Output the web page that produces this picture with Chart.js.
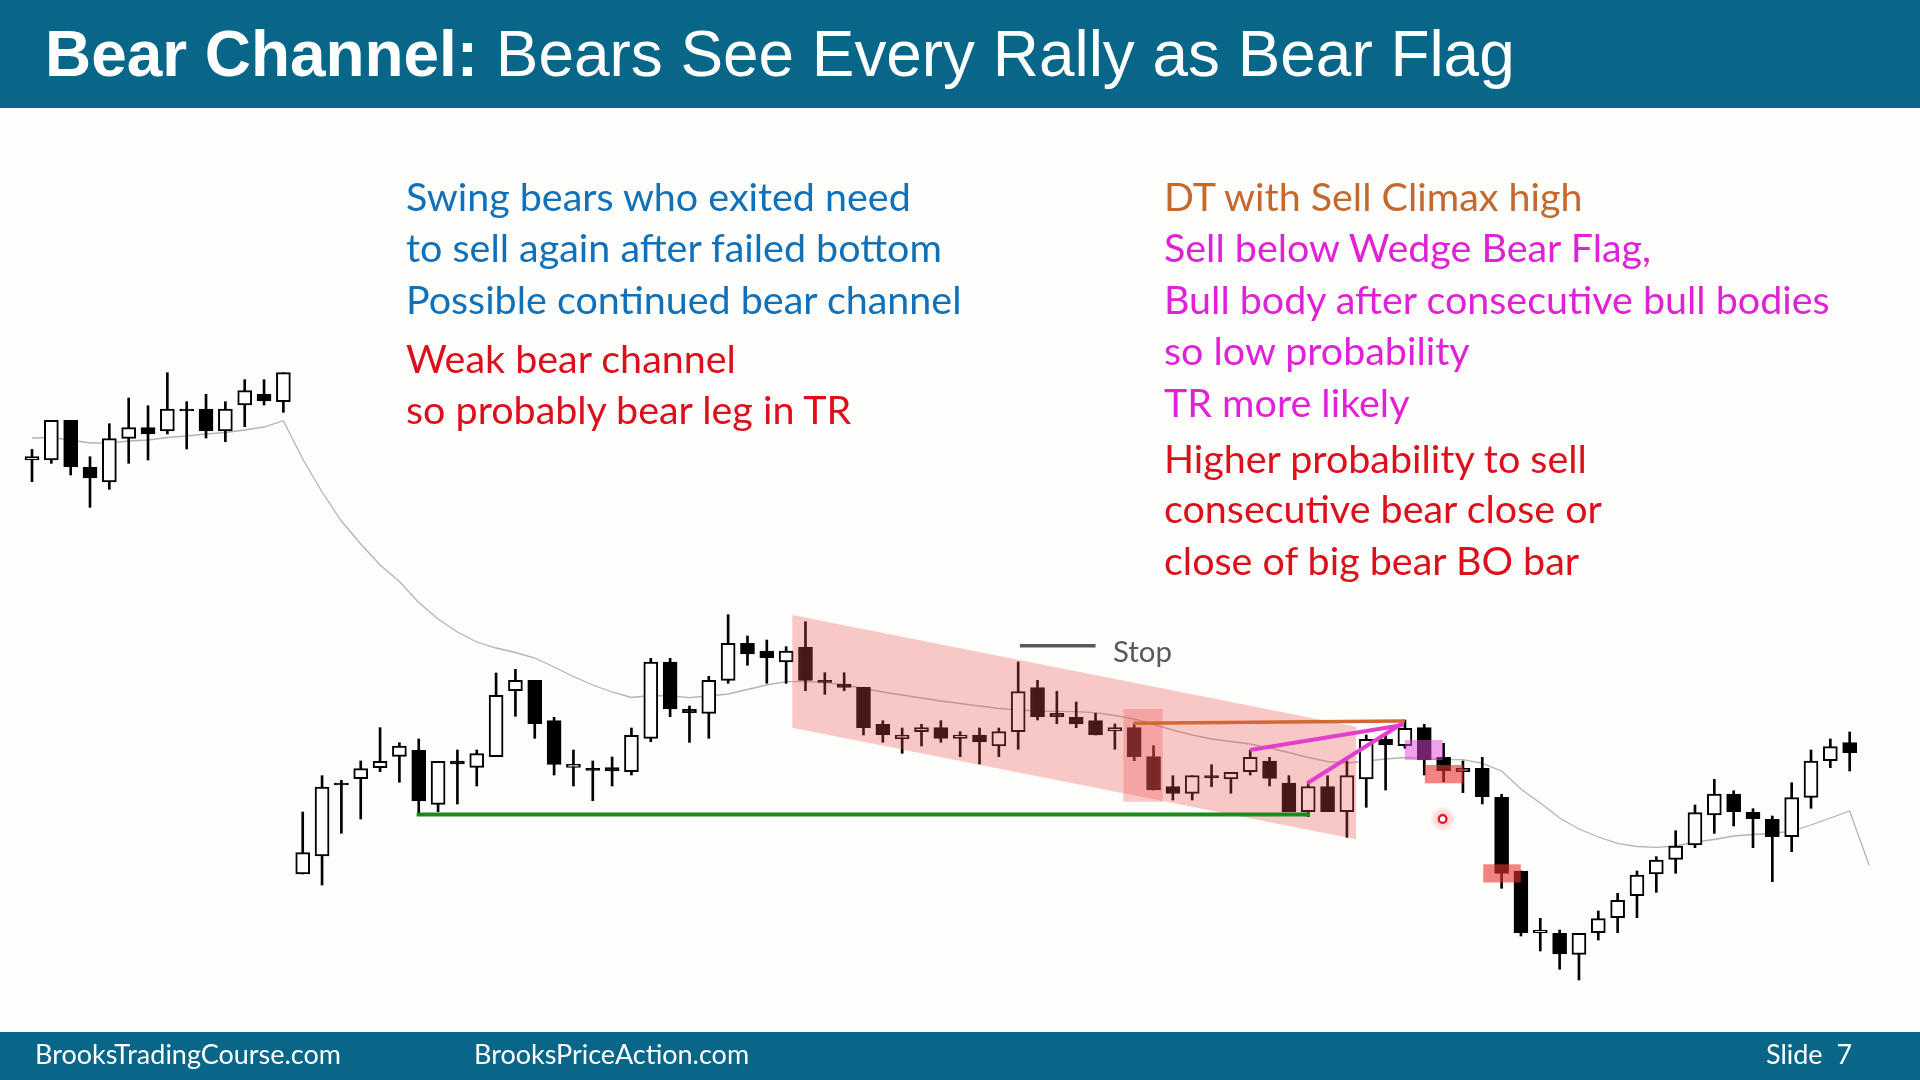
<!DOCTYPE html>
<html><head><meta charset="utf-8">
<script src="https://cdn.jsdelivr.net/npm/chart.js@4/dist/chart.umd.min.js"></script>
<style>
html,body{margin:0;padding:0;width:1920px;height:1080px;overflow:hidden;background:#fdfdfb;}
#wrap{position:relative;width:1920px;height:1080px;}
#chart{position:absolute;left:0;top:0;}
.band{position:absolute;left:0;width:1920px;background:#086688;}
.t{position:absolute;white-space:nowrap;line-height:1;font-family:Lato,"Open Sans",sans-serif;display:inline-block;}
#title{position:absolute;left:45px;white-space:nowrap;line-height:1;font-family:"Liberation Sans",Arial,sans-serif;color:#fff;display:inline-block;}
.blue{color:#1070b8}.red{color:#dc101a}.orange{color:#c4692d}.mag{color:#df22d6}
.foot{color:#ffffff}
</style></head>
<body><div id="wrap">
<div class="band" style="top:0;height:108px"></div>
<div class="band" style="top:1032px;height:48px"></div>
<canvas id="chart" width="1920" height="1080"></canvas>
<div id="title" data-w="1470"><b>Bear Channel:</b> Bears See Every Rally as Bear Flag</div>

<div class="t txt blue" style="left:406px" data-w="504.5" data-cy="197.2">Swing bears who exited need</div>
<div class="t txt blue" style="left:406px" data-w="541" data-cy="248.6">to sell again after failed bottom</div>
<div class="t txt blue" style="left:406px" data-w="558" data-cy="300">Possible continued bear channel</div>
<div class="t txt red" style="left:406px" data-w="332" data-cy="358.8">Weak bear channel</div>
<div class="t txt red" style="left:406px" data-w="447" data-cy="410.2">so probably bear leg in TR</div>

<div class="t txt orange" style="left:1164px" data-w="410" data-cy="197.2">DT with Sell Climax high</div>
<div class="t txt mag" style="left:1164px" data-w="486" data-cy="248.6">Sell below Wedge Bear Flag,</div>
<div class="t txt mag" style="left:1164px" data-w="667" data-cy="300">Bull body after consecutive bull bodies</div>
<div class="t txt mag" style="left:1164px" data-w="308.6" data-cy="351.4">so low probability</div>
<div class="t txt mag" style="left:1164px" data-w="243.7" data-cy="402.9">TR more likely</div>
<div class="t txt red" style="left:1164px" data-w="425" data-cy="459.2">Higher probability to sell</div>
<div class="t txt red" style="left:1164px" data-w="438" data-cy="509.4">consecutive bear close or</div>
<div class="t txt red" style="left:1164px" data-w="412.7" data-cy="560.8">close of big bear BO bar</div>

<div class="t stop" style="left:1113px;color:#595959" data-w="59" data-cy="652.5">Stop</div>

<div class="t foot" style="left:35px" data-w="311" data-cy="1056.5">BrooksTradingCourse.com</div>
<div class="t foot" style="left:474px" data-w="274" data-cy="1056.5">BrooksPriceAction.com</div>
<div class="t foot" style="left:1766px" data-w="85" data-cy="1056.5">Slide&nbsp;&nbsp;7</div>
</div>
<script>
// ---- data (price units) ----
const opens = [54.0,54.0,57.97,53.27,51.8,56.17,57.23,56.9,59.1,59.1,56.9,59.5,60.57,59.83,
 12.6,14.4,21.7,22.13,23.23,24.37,24.97,19.57,23.9,23.27,
 24.33,30.93,31.97,27.93,23.27,23.17,23.23,22.83,26.17,33.8,
 29.07,28.67,31.97,35.67,34.9,33.8,35.27,31.97,31.6,31.27,
 27.57,26.13,26.83,27.23,26.17,26.5,25.4,26.83,31.23,28.67,
 28.27,27.93,26.9,27.23,24.33,21.33,20.67,22.43,22.1,22.83,
 23.9,21.7,18.83,21.33,18.83,22.1,26.07,25.43,27.23,24.27,
 22.83,23.17,20.27,12.9,6.73,6.67,4.57,6.73,8.23,10.43,
 12.6,14.07,15.5,18.5,20.6,18.77,18.07,16.33,20.27,23.93,25.73];
const highs = [55.07,57.97,57.97,54.33,57.63,60.2,59.43,62.73,59.83,60.57,59.83,62.03,62.03,62.73,
 18.8,22.43,21.97,23.9,27.23,25.73,26.1,23.87,25.0,25.0,
 32.7,33.07,31.97,28.27,25.0,23.9,24.3,27.2,34.17,34.17,
 29.4,32.37,38.53,36.4,36.0,35.33,37.83,32.73,32.73,31.27,
 27.93,27.2,27.57,27.93,26.83,27.2,27.2,33.8,31.97,30.87,
 29.8,28.67,27.6,27.6,25.43,22.43,22.43,23.53,22.77,25.0,
 24.27,22.43,21.67,22.43,23.9,26.5,26.5,28.0,27.57,25.67,
 23.9,24.27,20.57,12.9,8.17,7.0,6.67,8.9,10.67,12.9,
 14.33,16.93,19.5,22.07,20.93,19.13,18.4,21.73,25.0,26.1,26.8];
const lows = [51.83,53.67,52.5,49.27,51.07,53.67,54.0,56.6,55.1,56.2,55.83,57.33,59.5,58.77,
 12.6,11.5,16.67,18.1,22.83,21.77,18.67,18.83,19.6,21.4,
 24.33,28.37,26.17,22.5,21.4,19.93,21.4,22.5,25.83,28.33,
 25.77,26.17,31.67,33.47,31.67,31.67,30.93,30.57,30.93,26.5,
 25.77,24.67,25.4,25.77,24.33,23.6,24.33,25.07,28.0,27.63,
 27.23,26.5,25.07,23.93,21.0,20.0,20.0,21.33,20.67,22.5,
 21.4,18.83,18.33,18.83,16.27,19.27,21.0,25.17,22.5,21.83,
 20.73,19.6,11.17,6.4,4.9,3.07,2.0,6.0,6.73,8.23,
 10.77,12.67,15.23,16.67,17.4,15.23,11.83,14.83,19.17,23.23,22.9];
const closes = [54.33,57.97,53.33,52.2,56.13,57.23,56.6,59.1,59.1,56.9,59.1,60.93,59.9,62.73,
 14.73,21.3,21.7,23.13,23.87,25.4,19.9,23.87,23.6,24.63,
 30.47,31.97,27.63,23.57,23.57,23.17,22.9,26.47,33.8,29.1,
 28.73,31.97,35.67,34.6,34.23,34.9,31.97,31.97,31.27,27.23,
 26.5,26.5,27.23,26.17,26.5,25.8,26.83,30.83,28.33,28.33,
 27.6,26.5,27.23,24.33,21.0,20.67,22.43,22.43,22.77,24.27,
 22.17,18.83,21.33,18.83,22.43,26.07,25.5,27.17,24.0,22.93,
 23.17,20.33,12.67,6.73,7.0,4.6,6.67,8.13,9.97,12.5,
 14.0,15.4,18.73,20.6,18.83,18.13,16.33,20.23,23.9,25.33,24.73];
const ema20 = [56.2,56.25,56.0,55.7,55.7,55.9,56.0,56.25,56.4,56.6,56.75,57.0,57.3,57.93,
 54.1,50.8,47.9,45.6,43.5,41.85,39.75,38.1,36.8,35.8,
 35.2,34.75,34.2,33.3,32.35,31.5,30.8,30.25,30.45,30.4,
 30.23,30.4,30.6,31.05,31.5,31.83,31.83,31.75,31.5,31.15,
 30.8,30.5,30.2,29.9,29.65,29.4,29.15,29.0,28.9,28.87,
 28.83,28.73,28.45,28.1,27.55,27.0,26.5,26.1,25.85,25.6,
 25.2,24.75,24.25,23.85,23.7,23.9,24.1,24.25,24.15,24.05,
 24.03,23.67,22.9,21.1,19.7,18.2,17.1,16.3,15.67,15.35,
 15.27,15.4,15.8,16.05,16.4,16.55,16.65,16.9,17.5,18.2,18.9,13.5];

// ---- annotations in data coordinates [barIndex, price] ----
const channelPoly = [[39.32,38.5],[68.47,27.33],[68.47,16.07],[39.32,27.23]];
const setupBox = [56.44,29.1,58.47,19.83];
const supportLine = [[19.89,18.55],[66.09,18.55]];
const dtLine = [[56.95,27.67],[71.0,27.9]];
const wedgeLines = [[[62.99,25.0],[70.9,27.5]],[[65.95,21.67],[70.9,27.7]]];
const stopLine = [[51.09,35.43],[55.0,35.43]];
const magentaBox = [71.0,26.0,72.95,24.0];
const redBoxes = [[72.03,23.5,74.02,21.67],[75.05,13.57,76.99,11.75]];
const marker = [72.95,18.1];

const idx = opens.map((_,i)=>i);
const wickData = idx.map(i=>({x:i,y:[lows[i],highs[i]]}));
const bodyData = idx.map(i=>({x:i,y:[opens[i],closes[i]]}));
const bodyColors = idx.map(i=>closes[i]>opens[i]?'#ffffff':'#000000');
const emaData = ema20.map((v,i)=>({x:i,y:v}));

const overlays = {
  id:'overlays',
  afterDatasetsDraw(chart){
    const {ctx} = chart, xs = chart.scales.x, ys = chart.scales.y;
    const X=v=>xs.getPixelForValue(v), Y=v=>ys.getPixelForValue(v);
    const box=(b,c)=>{ctx.fillStyle=c;ctx.fillRect(X(b[0]),Y(b[1]),X(b[2])-X(b[0]),Y(b[3])-Y(b[1]));};
    const seg=(s,c,w)=>{ctx.strokeStyle=c;ctx.lineWidth=w;ctx.lineCap='butt';ctx.beginPath();ctx.moveTo(X(s[0][0]),Y(s[0][1]));ctx.lineTo(X(s[1][0]),Y(s[1][1]));ctx.stroke();};
    ctx.save();
    ctx.fillStyle='rgba(238,80,80,0.3)';
    ctx.beginPath();
    channelPoly.forEach((p,i)=>{ if(i) ctx.lineTo(X(p[0]),Y(p[1])); else ctx.moveTo(X(p[0]),Y(p[1])); });
    ctx.closePath(); ctx.fill();
    box(setupBox,'rgba(238,80,80,0.3)');
    seg(supportLine,'#1b8a1b',4);
    seg(dtLine,'#d06a30',3.5);
    wedgeLines.forEach(s=>seg(s,'#e23fcf',4));
    seg(stopLine,'#595959',3.5);
    box(magentaBox,'rgba(228,70,215,0.5)');
    redBoxes.forEach(b=>box(b,'rgba(235,50,50,0.6)'));
    const cx=X(marker[0]), cy=Y(marker[1]);
    const g=ctx.createRadialGradient(cx,cy,0,cx,cy,13);
    g.addColorStop(0,'rgba(255,60,60,0.4)'); g.addColorStop(1,'rgba(255,60,60,0)');
    ctx.fillStyle=g; ctx.beginPath(); ctx.arc(cx,cy,13,0,Math.PI*2); ctx.fill();
    ctx.beginPath(); ctx.arc(cx,cy,3.8,0,Math.PI*2); ctx.fillStyle='#ffffff'; ctx.fill();
    ctx.lineWidth=2.2; ctx.strokeStyle='#e0141e'; ctx.stroke();
    ctx.restore();
  }
};

const PX_PER_BAR = 19.337, FIRST_BAR_PX = 32;
const XMIN = -FIRST_BAR_PX/PX_PER_BAR, XMAX = XMIN + 1920/PX_PER_BAR;

new Chart(document.getElementById('chart'),{
  type:'bar',
  data:{datasets:[
    {type:'line',data:emaData,borderColor:'#b3b3b3',borderWidth:1.3,pointRadius:0,tension:0,order:3},
    {data:wickData,backgroundColor:'#000000',borderWidth:0,grouped:false,barThickness:2,maxBarThickness:2,order:2},
    {data:bodyData,backgroundColor:bodyColors,borderColor:'#000000',borderWidth:2,borderSkipped:false,
     grouped:false,barThickness:14,maxBarThickness:14,minBarLength:2,order:1}
  ]},
  options:{
    responsive:false,animation:false,devicePixelRatio:1,events:[],
    layout:{padding:0},
    plugins:{legend:{display:false},tooltip:{enabled:false}},
    scales:{
      x:{type:'linear',min:XMIN,max:XMAX,display:false,offset:false},
      y:{type:'linear',min:-8,max:100,display:false}
    }
  },
  plugins:[overlays]
});

// ---- fit text sizes to the reference widths ----
function fitGroup(els,k){
  let r=0;
  els.forEach(e=>{e.style.fontSize='100px'; r+=(+e.dataset.w)/e.getBoundingClientRect().width;});
  const fs=100*r/els.length;
  els.forEach(e=>{e.style.fontSize=fs+'px'; e.style.top=(+e.dataset.cy - k*fs)+'px';});
}
fitGroup([...document.querySelectorAll('.txt')],0.535);
fitGroup([...document.querySelectorAll('.stop')],0.557);
fitGroup([...document.querySelectorAll('.foot')],0.557);
(function(){
  const t=document.getElementById('title');
  t.style.fontSize='100px';
  const fs=100*(+t.dataset.w)/t.getBoundingClientRect().width;
  t.style.fontSize=fs+'px';
  t.style.top=(77 - 0.8465*fs)+'px';
})();
</script>
</body></html>
